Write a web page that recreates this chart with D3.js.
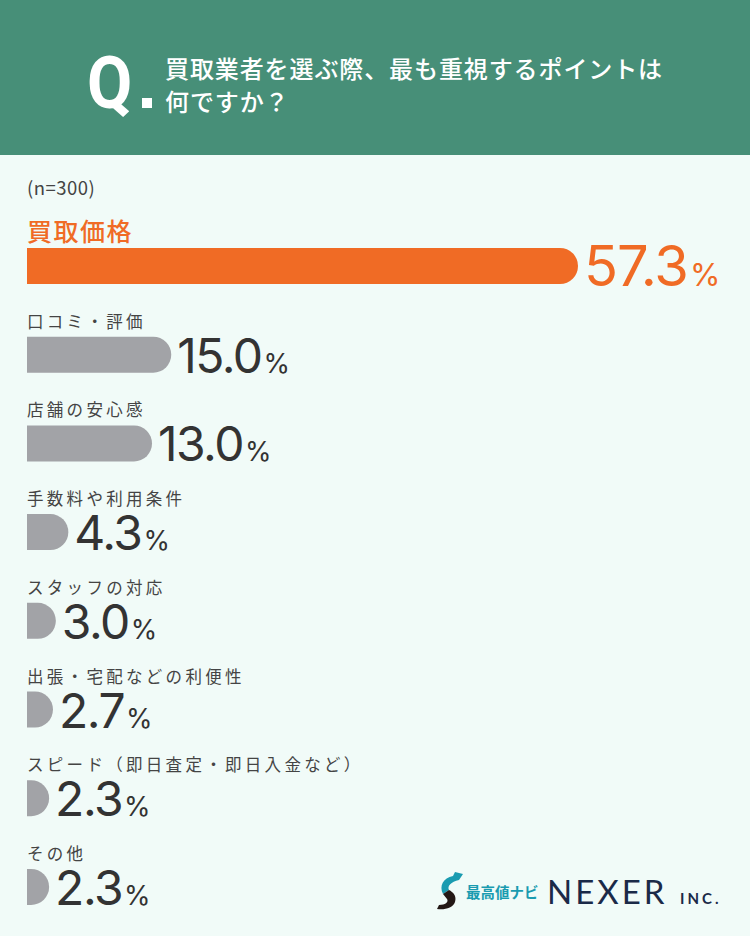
<!DOCTYPE html>
<html><head><meta charset="utf-8">
<script src="https://cdn.jsdelivr.net/npm/d3@7/dist/d3.min.js"></script>
<style>
html,body{margin:0;padding:0;background:#f1fbf8;}
svg{display:block;}
</style></head>
<body>
<script>
const titleLines = ["買取業者を選ぶ際、最も重視するポイントは", "何ですか？"];
const sampleNote = "(n=300)";
const categories = ["買取価格","口コミ・評価","店舗の安心感","手数料や利用条件","スタッフの対応","出張・宅配などの利便性","スピード（即日査定・即日入金など）","その他"];
const values = [57.3, 15.0, 13.0, 4.3, 3.0, 2.7, 2.3, 2.3];

const W = 750, H = 936;
const svg = d3.select("body").append("svg").attr("width", W).attr("height", H);
svg.append("rect").attr("width", W).attr("height", H).attr("fill", "#f1fbf8");

// header
svg.append("rect").attr("width", W).attr("height", 155).attr("fill", "#478f78");
svg.append("text").text("Q")
  .attr("transform", "translate(87,108) scale(0.9,1)")
  .attr("font-family", "Roboto, 'DejaVu Sans', sans-serif").attr("font-weight", 700)
  .attr("font-size", 73).attr("fill", "#ffffff");
svg.append("rect").attr("x", 142).attr("y", 98).attr("width", 10).attr("height", 10).attr("fill", "#ffffff");
titleLines.forEach((t, i) => {
  svg.append("text").text(t).attr("x", 165).attr("y", 78 + i * 33)
    .attr("font-family", "'Noto Sans CJK JP', sans-serif").attr("font-weight", 500)
    .attr("font-size", 24).attr("letter-spacing", 0.9).attr("fill", "#ffffff");
});

svg.append("text").text(sampleNote).attr("x", 27).attr("y", 195)
  .attr("font-family", "'Noto Sans CJK JP', sans-serif")
  .attr("font-size", 18.5).attr("letter-spacing", 0.5).attr("fill", "#444");

const x = d3.scaleLinear().domain([0, 57.3]).range([0, 551]);
const y = d3.scaleBand().domain(categories).range([212, 212 + 8 * 88.7]).paddingInner(0);
const barH = 36, x0 = 27;

function barPath(w, top) {
  const r = Math.min(w, barH / 2);
  return `M${x0},${top} L${x0 + w - r},${top} A${r},${barH/2} 0 0 1 ${x0 + w - r},${top + barH} L${x0},${top + barH} Z`;
}

const rows = svg.selectAll("g.row").data(categories).join("g").attr("class", "row");
rows.append("text").text(d => d)
  .attr("x", x0).attr("y", (d, i) => y(d) + (i === 0 ? 29 : 27))
  .attr("font-family", "'Noto Sans CJK JP', sans-serif")
  .attr("font-weight", (d, i) => i === 0 ? 500 : 400)
  .attr("font-size", (d, i) => i === 0 ? 25 : 16.5)
  .attr("letter-spacing", (d, i) => i === 0 ? 1.5 : 3.3)
  .attr("fill", (d, i) => i === 0 ? "#f06b25" : "#444");
rows.append("path")
  .attr("d", (d, i) => barPath(x(values[i]), y(d) + 36))
  .attr("fill", (d, i) => i === 0 ? "#f06b25" : "#a2a3a7");
const num = rows.append("text")
  .attr("x", (d, i) => x0 + x(values[i]) + 6)
  .attr("y", (d, i) => y(d) + 36 + barH + (i === 0 ? 2 : 0))
  .attr("font-family", "Inter, Lato, sans-serif").attr("font-weight", 400)
  .attr("fill", (d, i) => i === 0 ? "#f06b25" : "#333")
  .attr("letter-spacing", (d, i) => i === 0 ? -1 : -1.5);
num.append("tspan").text((d, i) => values[i].toFixed(1))
  .attr("font-size", (d, i) => i === 0 ? 56 : 48);
num.append("tspan").text("%").attr("dx", 2)
  .attr("font-size", (d, i) => i === 0 ? 31 : 27).attr("letter-spacing", 0);

// logo
const logo = svg.append("g").attr("transform", "translate(437,872)");
logo.append("path").attr("d", "M18,0 L26,2 L22,8 C14,10 10,14 12,18 L6,22 C2,14 6,6 16,4 Z").attr("fill", "#1a9bb0");
logo.append("path").attr("d", "M6,22 L12,18 C16,20 20,24 18,30 C16,36 8,38 0,37 L2,33 C8,33 12,30 10,27 Z").attr("fill", "#231815");
svg.append("text").text("最高値ナビ").attr("x", 466).attr("y", 898)
  .attr("font-family", "'Noto Sans CJK JP', sans-serif").attr("font-weight", 700)
  .attr("font-size", 14.5).attr("fill", "#1a9bb0");
svg.append("text").text("NEXER").attr("x", 547).attr("y", 904)
  .attr("font-family", "Lato, sans-serif").attr("font-weight", 400)
  .attr("font-size", 33).attr("letter-spacing", 3).attr("fill", "#1b2a48");
svg.append("text").text("INC.").attr("x", 680).attr("y", 904)
  .attr("font-family", "Lato, sans-serif").attr("font-weight", 700)
  .attr("font-size", 15).attr("letter-spacing", 3).attr("fill", "#1b2a48");
</script>
</body></html>
